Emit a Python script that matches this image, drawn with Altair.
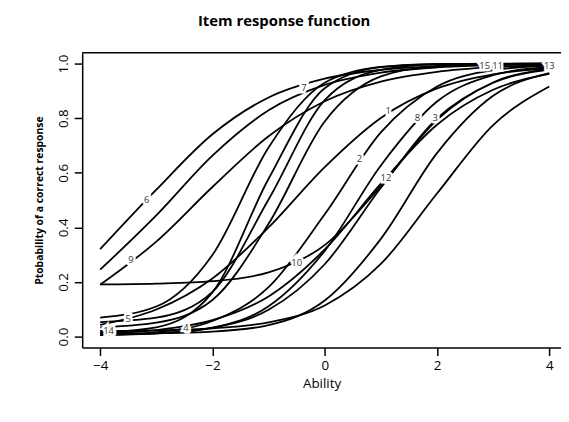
import altair as alt
import pandas as pd

# Ability grid (x) and probability of a correct response read for each item curve
theta = [-4, -3, -2, -1, 0, 1, 2, 3, 4]

item1 = [0.043, 0.099, 0.213, 0.400, 0.621, 0.801, 0.909, 0.961, 0.983]
item2 = [0.005, 0.016, 0.057, 0.181, 0.448, 0.748, 0.916, 0.976, 0.993]
item3 = [0.006, 0.012, 0.032, 0.098, 0.265, 0.545, 0.799, 0.930, 0.978]
item4 = [0.021, 0.023, 0.030, 0.052, 0.114, 0.266, 0.524, 0.775, 0.916]
item5 = [0.069, 0.110, 0.299, 0.693, 0.930, 0.988, 0.998, 0.999, 1.000]
item6 = [0.320, 0.538, 0.741, 0.876, 0.945, 0.977, 0.991, 0.996, 0.998]
item7 = [0.245, 0.444, 0.663, 0.829, 0.922, 0.967, 0.986, 0.994, 0.998]
item8 = [0.008, 0.012, 0.033, 0.111, 0.314, 0.627, 0.861, 0.958, 0.988]
item9 = [0.190, 0.348, 0.548, 0.734, 0.862, 0.934, 0.970, 0.987, 0.994]
item10 = [0.191, 0.194, 0.203, 0.235, 0.335, 0.551, 0.794, 0.931, 0.980]
item11 = [0.034, 0.051, 0.134, 0.413, 0.788, 0.953, 0.991, 0.998, 1.000]
item12 = [0.012, 0.024, 0.060, 0.147, 0.319, 0.560, 0.776, 0.904, 0.962]
item13 = [0.010, 0.012, 0.018, 0.042, 0.132, 0.358, 0.672, 0.882, 0.965]
item14 = [0.015, 0.034, 0.162, 0.578, 0.910, 0.987, 0.998, 1.000, 1.000]
item15 = [0.053, 0.069, 0.164, 0.502, 0.866, 0.977, 0.997, 0.999, 1.000]

items = {
    "1": item1, "2": item2, "3": item3, "4": item4, "5": item5,
    "6": item6, "7": item7, "8": item8, "9": item9, "10": item10,
    "11": item11, "12": item12, "13": item13, "14": item14, "15": item15,
}

# Curve labels as placed in the picture
label_text = ["6", "7", "9", "5", "14", "4", "10", "2", "1", "8", "3", "12", "15", "11", "13"]
label_theta = [-3.17, -0.37, -3.45, -3.5, -3.85, -2.47, -0.5, 0.62, 1.13, 1.65, 1.97, 1.09, 2.85, 3.08, 4.0]
label_p = [0.50, 0.91, 0.28, 0.065, 0.02, 0.03, 0.27, 0.65, 0.825, 0.80, 0.80, 0.58, 0.99, 0.99, 0.99]

x_ticks = [-4, -2, 0, 2, 4]
y_ticks = [0.0, 0.2, 0.4, 0.6, 0.8, 1.0]

rows = []
for name, vals in items.items():
    for t, p in zip(theta, vals):
        rows.append({"item": name, "theta": t, "p": p})
curves = pd.DataFrame(rows)
labels = pd.DataFrame({"label": label_text, "theta": label_theta, "p": label_p})

FONT = "Open Sans"

xs = alt.Scale(domain=[-4.32, 4.209], nice=False, zero=False)
ys = alt.Scale(domain=[-0.04, 1.04], nice=False, zero=False)

x_enc = alt.X(
    "theta:Q", scale=xs,
    axis=alt.Axis(
        values=x_ticks, format="d", title="Ability", grid=False, tickSize=8, tickWidth=1.5,
        domainWidth=1.5, domainColor="black", tickColor="black",
        labelFontSize=13.5, labelColor="black", labelFont=FONT, labelPadding=3,
        titleFontSize=13.5, titleFont=FONT, titleFontWeight="normal", titleColor="black",
        titlePadding=5, labelFlush=False,
    ),
)
y_enc = alt.Y(
    "p:Q", scale=ys,
    axis=alt.Axis(
        values=y_ticks, format=".1f", title="Ptobability of a correct response",
        grid=False, tickSize=8, tickWidth=1.5, domainWidth=1.5,
        domainColor="black", tickColor="black",
        labelAngle=270, labelAlign="center", labelBaseline="bottom",
        labelFontSize=13.5, labelColor="black", labelFont=FONT, labelPadding=4,
        titleFontSize=10.5, titleFont=FONT, titleFontWeight="bold", titleColor="black",
        titlePadding=12, labelFlush=False,
    ),
)

lines = alt.Chart(curves).mark_line(
    color="black", strokeWidth=1.8, interpolate="monotone"
).encode(x=x_enc, y=y_enc, detail="item:N")

top_border = alt.Chart(pd.DataFrame({"p": [1.04]})).mark_rule(
    color="black", strokeWidth=1.5
).encode(y=alt.Y("p:Q", scale=ys))

halo = alt.Chart(labels).mark_text(
    fontSize=9.5, font=FONT, color="white", stroke="white", strokeWidth=5
).encode(x=alt.X("theta:Q", scale=xs), y=alt.Y("p:Q", scale=ys), text="label:N")

text = alt.Chart(labels).mark_text(
    fontSize=9.5, font=FONT, color="#333333"
).encode(x=alt.X("theta:Q", scale=xs), y=alt.Y("p:Q", scale=ys), text="label:N")

chart = alt.layer(lines, top_border, halo, text).properties(
    width=484, height=298,
    title=alt.TitleParams(
        "Item response function", fontSize=15, fontWeight="bold", font=FONT,
        anchor="start", dx=165, offset=23, color="black",
    ),
    autosize=alt.AutoSizeParams(type="none"),
    padding={"left": 75, "top": 43, "right": 0, "bottom": 60},
).configure_view(strokeWidth=0)

chart.save("out.html", embed_options={"renderer": "svg", "actions": False})
